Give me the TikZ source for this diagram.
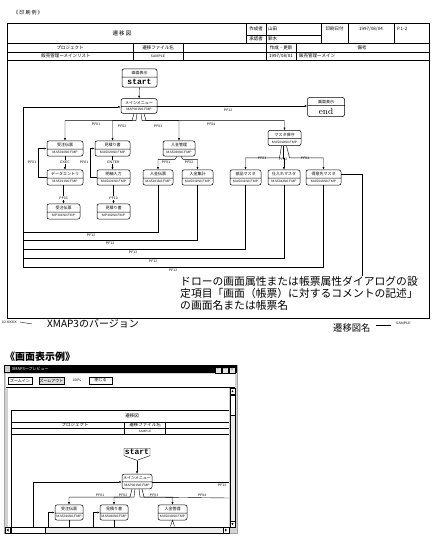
\documentclass[tikz,border=0pt]{standalone}
\usepackage{fontspec}
\newfontfamily\jp{Noto Sans CJK JP}
\newfontfamily\mono{Liberation Mono}
\newcommand{\fsz}[1]{\fontsize{#1}{#1}\selectfont}
\newcommand{\fn}[1]{\sffamily\fsz{3.3}#1}
\usetikzlibrary{shapes.multipart, shapes.symbols, arrows.meta, calc}

\tikzset{
  scr/.style={rectangle split, rectangle split parts=2, draw, rounded corners=2pt,
    line width=0.5pt, inner xsep=0.5pt, inner ysep=2pt, minimum width=#1, font=\jp\fsz{4}},
  scr/.default=30pt,
  arr/.style={-{Latex[length=2.5pt,width=2pt]}},
  pf/.style={font=\sffamily\fsz{3.5}, inner sep=0.3pt},
  cell/.style={font=\jp\fsz{4.5}, inner sep=0pt},
  btn/.style={draw, fill=white, font=\jp\fsz{4}, inner sep=0.8pt, minimum height=7pt},
}

\begin{document}
\begin{tikzpicture}[x=1pt,y=-1pt,line width=0.4pt]
\useasboundingbox (0,0) rectangle (438,536);

\node[font=\jp\fsz{5}] (titleA) at (28,13) {《 印 刷 例 》};
\draw[line width=0.8pt] (7,23) rectangle (429,318);
\draw (7,43) -- (429,43);
\draw (7,52) -- (429,52);
\draw (7,60) -- (429,60);
\draw (246,23) -- (246,43);
\draw (266,23) -- (266,60);
\draw (246,35) -- (321,35);
\draw (321,23) -- (321,43);
\draw (348,23) -- (348,43);
\draw (394,23) -- (394,43);
\draw (133,43) -- (133,60);
\draw (183,43) -- (183,60);
\draw (296,43) -- (296,60);
\node[cell, font=\jp\fsz{5.5}] (hTitle) at (122,33) {遷 移 図};
\node[cell] (hMaker) at (256,29) {作成者};
\node[cell] (hCheck) at (256,39) {承認者};
\node[cell, anchor=west] (hMakerV) at (268,29) {山田};
\node[cell, anchor=west] (hCheckV) at (268,39) {鈴木};
\node[cell] (hDate) at (334.5,29) {印刷日付};
\node[cell] (hDateV) at (371,29) {1997/08/04};
\node[cell, anchor=west] (hPage) at (397,29) {P.1-2};
\node[cell] (hProj) at (70,47.5) {プロジェクト};
\node[cell] (hFile) at (158,47.5) {遷移ファイル名};
\node[cell] (hUpd) at (281,47.5) {作成・更新};
\node[cell] (hNote) at (362,47.5) {備考};
\node[cell] (hProjV) at (66,56) {販売管理ーメインリスト};
\node[cell, font=\sffamily\fsz{3.5}] (hFileV) at (158,56) {SAMPLE};
\node[cell] (hUpdV) at (281,56) {1997/08/01};
\node[cell, anchor=west] (hNoteV) at (299,56) {販売管理ーメイン};

\node[scr=35pt] (startA) at (139.5,78) {画面表示\nodepart{two}\mono\bfseries\fsz{8}start};
\node[scr=36pt] (mainA) at (139,106) {メインメニュー\nodepart{two}\fn{MAP001N0.FMP}};
\node[scr=37pt] (endA) at (326,107) {画面表示\nodepart{two}\rmfamily\fsz{9}end};
\node[scr=36pt] (juchuA) at (65,148.5) {受注伝票\nodepart{two}\fn{MAS010N0.FMP}};
\node[scr=35pt] (mitsuA) at (112.5,148.5) {見積り書\nodepart{two}\fn{MAS020N0.FMP}};
\node[scr=32pt] (nyukinA) at (179,148.5) {入金管理\nodepart{two}\fn{MAS030N0.FMP}};
\node[scr=33pt] (masterA) at (284.5,138) {マスタ保守\nodepart{two}\fn{MAS040N0.FMP}};
\node[scr=36pt] (entryA) at (65,177.5) {データエントリ\nodepart{two}\fn{MAS011N0.FMP}};
\node[scr=33pt] (meisaiA) at (113.5,177.5) {明細入力\nodepart{two}\fn{MAS021N0.FMP}};
\node[scr=30pt] (denpyoA) at (158,177.5) {入金伝票\nodepart{two}\fn{MAS031N0.FMP}};
\node[scr=31pt] (shukeiA) at (197.5,177.5) {入金集計\nodepart{two}\fn{MAS032N0.FMP}};
\node[scr=31pt] (buhinA) at (245.5,177.5) {部品マスタ\nodepart{two}\fn{MAS041N0.FMP}};
\node[scr=32pt] (shiireA) at (284,177.5) {仕入れマスタ\nodepart{two}\fn{MAS042N0.FMP}};
\node[scr=35pt] (tokuiA) at (323.5,177.5) {得意先マスタ\nodepart{two}\fn{MAS043N0.FMP}};
\node[scr=33pt] (orderA) at (63.5,211.5) {受注伝票\nodepart{two}\fn{MP301N0.FMP}};
\node[scr=33pt] (quoteA) at (113.5,211.5) {見積り書\nodepart{two}\fn{MP302N0.FMP}};

\draw[arr] (startA) -- (mainA);
\draw[arr] (mainA.east) -- (mainA.east -| endA.west);
\node[pf] (pfEnd) at (228,110) {PF12};

\draw[arr] ($(mainA.south)+(-5,0)$) -- ($(mainA.south)+(-7,7)$) -| (juchuA);
\draw[arr] ($(mainA.south)+(-2,0)$) -- ($(mainA.south)+(-3,7)$) -| (mitsuA);
\draw[arr] ($(mainA.south)+(2,0)$) -- ($(mainA.south)+(3,7)$) -| (nyukinA);
\draw[arr] ($(mainA.south)+(5,0)$) -- ($(mainA.south)+(7,7)$) -| (masterA);
\node[pf] (pfM1) at (96,124.5) {PF01};
\node[pf] (pfM2) at (122,126) {PF02};
\node[pf] (pfM3) at (158,126) {PF03};
\node[pf] (pfM4) at (211,124.5) {PF04};

\draw[arr] (juchuA.south) -- (juchuA.south |- entryA.north);
\draw[arr] (mitsuA.south) -- (mitsuA.south |- meisaiA.north);
\node[pf, fill=white] (pfExec) at (65,162) {EXEC};
\node[pf, fill=white] (pfEnter) at (113.5,162) {ENTER};
\draw[arr] (orderA.north |- entryA.south) -- (orderA.north);
\draw[arr] (meisaiA.south) -- (meisaiA.south |- quoteA.north);
\node[pf, fill=white] (pfE3) at (63.5,198) {PF03};
\node[pf, fill=white] (pfE10) at (113.5,198) {PF10};

\draw[arr] (entryA.west) -- ++(-9,0) |- (juchuA.west);
\draw[arr] (meisaiA.west) -- ++(-7,0) |- (mitsuA.west);
\node[pf] (pfR1) at (32,162) {PF01};
\node[pf] (pfR2) at (84,162) {PF01};

\draw[arr] ($(nyukinA.south)+(-2,0)$) -- ($(nyukinA.south)+(-4,3)$) -| (denpyoA);
\draw[arr] ($(nyukinA.south)+(2,0)$) -- ($(nyukinA.south)+(4,3)$) -| (shukeiA);
\node[pf] (pfN1) at (166,162) {PF01};
\node[pf] (pfN2) at (189,162) {PF02};

\draw[arr] ($(masterA.south)+(-3,0)$) -- ($(masterA.south)+(-5,12)$) -| (buhinA);
\draw[arr] ($(masterA.south)+(-1,0)$) -- ($(masterA.south)+(-1,12)$) -| (shiireA);
\draw[arr] ($(masterA.south)+(2,0)$) -- ($(masterA.south)+(5,12)$) -| (tokuiA);
\node[pf] (pfS1) at (262,158) {PF01};
\node[pf] (pfS2) at (283,159) {PF02};
\node[pf] (pfS3) at (305,158) {PF03};

\coordinate (loopA) at (23,107);
\draw[arr] (loopA |- 0,267) -- (loopA) -- (loopA -| mainA.west);
\draw (denpyoA.south) |- (loopA |- 0,232);
\draw[line width=1pt] (shukeiA.south) |- (loopA |- 0,240);
\draw (buhinA.south) |- (loopA |- 0,249);
\draw (shiireA.south) |- (loopA |- 0,258);
\draw (tokuiA.south) |- (loopA |- 0,267);
\node[pf] (pfB1) at (91,235) {PF12};
\node[pf] (pfB2) at (110,243.5) {PF12};
\node[pf] (pfB3) at (133,252) {PF12};
\node[pf] (pfB4) at (153,261) {PF12};
\node[pf] (pfB5) at (173,270) {PF12};

\node[font=\jp\fontsize{10.8}{12}\selectfont, anchor=north west, align=left, inner sep=0pt] (note) at (180,276)
  {ドローの画面属性または帳票属性ダイアログの設\\定項目「画面（帳票）に対するコメントの記述」\\の画面名または帳票名};
\coordinate (leadA) at (362,0);
\draw ([yshift=3pt]tokuiA.east) -| (leadA |- note.north);

\node[font=\sffamily\fsz{3.5}, anchor=west, inner sep=0pt] (verA) at (2,322) {02.XXXX};
\node[font=\jp\fsz{10}, anchor=west, inner sep=0pt] (verB) at (47,324) {XMAP3のバージョン};
\draw ([xshift=3pt]verA.east) -- ([xshift=-15pt]verB.west);
\node[font=\jp\fsz{9.3}, anchor=west, inner sep=0pt] (nameB) at (333,328) {遷移図名};
\node[font=\sffamily\fsz{3.5}, anchor=west, inner sep=0pt] (nameA) at (396,323) {SAMPLE};
\draw ([xshift=5pt]nameB.east |- 0,325) -- ([xshift=-5pt]nameA.west |- 0,325);

\node[font=\jp\bfseries\fsz{10}, anchor=west, inner sep=0pt] (dispA) at (5,357) {《画面表示例》};

\fill[gray!35] (4,365) rectangle (237,533);
\draw[gray!70] (4,365) rectangle (237,533);
\fill[black] (4,365) rectangle (237,373);
\fill[gray!40] (5,366) rectangle (10,372);
\node[font=\jp\fsz{4}, text=white, anchor=west, inner sep=0pt] (winT) at (12,369) {XMAP3ープレビュー};
\foreach \bx/\sym in {215/\textendash, 222/\textemdash, 229/×}
  \node[draw, fill=gray!20, minimum width=6pt, minimum height=6pt, inner sep=0pt, font=\sffamily\fsz{4}, anchor=north west] at (\bx,366.5) {\sym};
\fill[white] (6,374) rectangle (235,387);
\node[btn, minimum width=24pt] (zin) at (20,380.5) {ズームイン};
\node[btn, minimum width=25pt, fill=gray!25] (zout) at (51.5,380.5) {ズームアウト};
\node[font=\sffamily\fsz{3.5}, inner sep=0pt] (zpct) at (77,380.5) {100\%};
\node[btn, minimum width=23pt] (zclose) at (100.5,380.5) {閉じる};
\draw (6,387) -- (235,387);
\fill[white] (8,388) rectangle (229,527);

\draw[line width=0.8pt] (11,410) -- (229,410);
\draw (11,422) -- (229,422);
\draw (11,428) -- (229,428);
\draw[line width=0.8pt] (11,434) -- (229,434);
\draw[line width=0.8pt] (11,410) -- (11,527);
\draw (124,422) -- (124,434);
\draw (165,422) -- (165,434);
\node[cell] (pTitle) at (132,416) {遷移図};
\node[cell] (pProj) at (75,425) {プロジェクト};
\node[cell] (pFile) at (145,425) {遷移ファイル名};
\node[cell, font=\sffamily\fsz{3}] (pFileV) at (145,431) {SAMPLE};

\node[draw, signal, signal to=south, signal pointer angle=140, font=\mono\bfseries\fsz{8},
  inner sep=1pt, minimum width=23pt, anchor=north] (startB) at (137,448) {start};
\node[scr=30pt] (mainB) at (137,481.5) {メインメニュー\nodepart{two}\fn{MAP001N0.FMP}};
\node[scr=28pt] (juchuB) at (69,512.5) {受注伝票\nodepart{two}\fn{MAS010N0.FMP}};
\node[scr=28pt] (mitsuB) at (114,512.5) {見積り書\nodepart{two}\fn{MAS020N0.FMP}};
\node[scr=29pt] (nyukinB) at (172.5,512.5) {入金管理\nodepart{two}\fn{MAS030N0.FMP}};

\draw[arr] (startB.south) -- (mainB);
\coordinate (loopB) at (33,482);
\draw[arr] (loopB |- 0,527) -- (loopB) -- (loopB -| mainB.west);
\coordinate (edgeB) at (229,482);
\draw (mainB.east |- edgeB) -- (edgeB);
\node[pf] (pfEndB) at (222,485) {PF12};
\draw[arr] ($(mainB.south)+(-5,0)$) -- ($(mainB.south)+(-7,8)$) -| (juchuB);
\draw[arr] ($(mainB.south)+(-2,0)$) -- ($(mainB.south)+(-3,8)$) -| (mitsuB);
\draw[arr] ($(mainB.south)+(2,0)$) -- ($(mainB.south)+(3,8)$) -| (nyukinB);
\draw ($(mainB.south)+(5,0)$) -- ($(mainB.south)+(7,8)$) -- (edgeB |- 0,498);
\node[pf] (pfB01) at (100,495.5) {PF01};
\node[pf] (pfB02) at (123,495.5) {PF02};
\node[pf] (pfB03) at (154,495.5) {PF03};
\node[pf] (pfB04) at (202,495.5) {PF04};
\draw[arr] (48,527) |- (juchuB.west);
\draw[arr] (93,527) |- (mitsuB.west);
\draw (juchuB.south) -- (juchuB.south |- 0,527);
\draw (mitsuB.south) -- (mitsuB.south |- 0,527);
\draw ($(nyukinB.south)+(-2,6)$) -- (nyukinB.south) -- ($(nyukinB.south)+(2,6)$);

\draw[fill=gray!15] (230,388) rectangle (235,527);
\draw[fill=white] (230,388) rectangle (235,394);
\fill (231.5,392) -- (233.5,392) -- (232.5,390) -- cycle;
\draw[fill=white] (230,395) rectangle (235,415);
\draw[fill=white] (230,521) rectangle (235,527);
\fill (231.5,523) -- (233.5,523) -- (232.5,525) -- cycle;
\draw[fill=gray!15] (5,527) rectangle (229,533);
\draw[fill=white] (5,527) rectangle (10,533);
\fill (8.5,528.5) -- (8.5,531.5) -- (6.5,530) -- cycle;
\draw[fill=white] (11,527) rectangle (45,533);
\draw[fill=white] (223,527) rectangle (229,533);
\fill (225,528.5) -- (225,531.5) -- (227,530) -- cycle;
\end{tikzpicture}
\end{document}
